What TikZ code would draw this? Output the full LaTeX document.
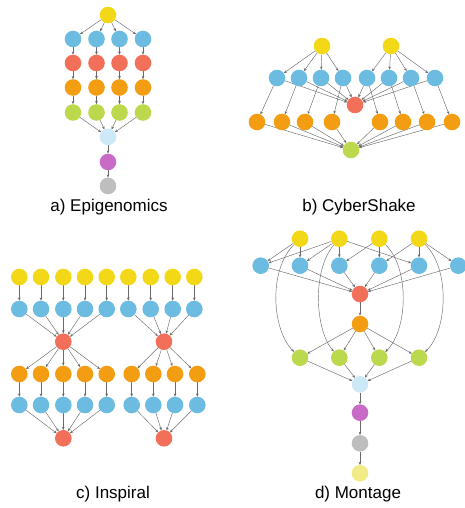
\documentclass[tikz,border=0pt]{standalone}
\usepackage{fontspec}
\setmainfont{Liberation Sans}
\usetikzlibrary{arrows.meta}
\definecolor{cyel}{HTML}{F2D816}
\definecolor{cblu}{HTML}{6CBBE0}
\definecolor{cred}{HTML}{F2705A}
\definecolor{corg}{HTML}{F29D12}
\definecolor{cgrn}{HTML}{BCD84C}
\definecolor{clbl}{HTML}{CDE8F6}
\definecolor{cpur}{HTML}{C86BC6}
\definecolor{cgry}{HTML}{BEBEBE}
\definecolor{cpyl}{HTML}{F1EC86}
\definecolor{cedge}{HTML}{6A6A6A}
\pgfdeclarelayer{bg}
\pgfsetlayers{bg,main}
\tikzset{
  v/.style={circle,minimum size=16.6pt,inner sep=0pt,outer sep=0pt,draw=none},
  edge/.style={draw=cedge,line width=0.45pt,-{Stealth[length=3.2pt,width=2.6pt]}},
  paneltitle/.style={font=\fontsize{17}{20}\selectfont,inner sep=0pt}
}
\begin{document}
\begin{tikzpicture}[x=1pt,y=-1pt]
\useasboundingbox (0,0) rectangle (465,508);

% ---------- a) Epigenomics ----------
\node[v,fill=cyel] (ay) at (108,15) {};
\foreach \x [count=\i] in {73,96.5,119.5,143}{
  \node[v,fill=cblu] (ab\i) at (\x,39) {};
  \node[v,fill=cred] (ar\i) at (\x,63) {};
  \node[v,fill=corg] (ao\i) at (\x,87.5) {};
  \node[v,fill=cgrn] (ag\i) at (\x,112.5) {};
}
\node[v,fill=clbl] (alb) at (108,137) {};
\node[v,fill=cpur] (ap) at (108,162) {};
\node[v,fill=cgry] (agr) at (108,186) {};
\node[paneltitle] (capa) at (109,207) {a) Epigenomics};
\begin{pgfonlayer}{bg}
\foreach \i in {1,...,4}{
  \draw[edge] (ay) -- (ab\i);
  \draw[edge] (ab\i) -- (ar\i);
  \draw[edge] (ar\i) -- (ao\i);
  \draw[edge] (ao\i) -- (ag\i);
  \draw[edge] (ag\i) -- (alb);
}
\draw[edge] (alb) -- (ap);
\draw[edge] (ap) -- (agr);
\end{pgfonlayer}

% ---------- b) CyberShake ----------
\node[v,fill=cyel] (by1) at (322,46) {};
\node[v,fill=cyel] (by2) at (391,46) {};
\foreach \x [count=\i] in {277,299,321,343,367,389,411,435}{
  \node[v,fill=cblu] (bb\i) at (\x,78) {};
}
\node[v,fill=cred] (br) at (355,105) {};
\foreach \x [count=\i] in {257,282,305,332,380,403,427,452}{
  \node[v,fill=corg] (bo\i) at (\x,122) {};
}
\node[v,fill=cgrn] (bg) at (351,150) {};
\node[paneltitle] (capb) at (359,207) {b) CyberShake};
\begin{pgfonlayer}{bg}
\foreach \i in {1,...,4}{ \draw[edge] (by1) -- (bb\i); }
\foreach \i in {5,...,8}{ \draw[edge] (by2) -- (bb\i); }
\foreach \i in {1,...,8}{
  \draw[edge] (bb\i) -- (br);
  \draw[edge] (bb\i) -- (bo\i);
  \draw[edge] (bo\i) -- (bg);
}
\end{pgfonlayer}

% ---------- c) Inspiral ----------
\foreach \x [count=\i] in {19.3,41,63.3,85,106.7,128.3,150.7,172.7,194.3}{
  \node[v,fill=cyel] (cy\i) at (\x,277) {};
  \node[v,fill=cblu] (cb\i) at (\x,309) {};
}
\node[v,fill=cred] (cr1) at (63.3,341.7) {};
\node[v,fill=cred] (cr2) at (164,341.7) {};
\foreach \x [count=\i] in {19.3,41,63.3,85,106.7,131.7,153.3,175,197.3}{
  \node[v,fill=corg] (co\i) at (\x,374) {};
  \node[v,fill=cblu] (cc\i) at (\x,405) {};
}
\node[v,fill=cred] (cs1) at (63.3,438.3) {};
\node[v,fill=cred] (cs2) at (164,438.3) {};
\node[paneltitle] (capc) at (113,494) {c) Inspiral};
\begin{pgfonlayer}{bg}
\foreach \i in {1,...,9}{
  \draw[edge] (cy\i) -- (cb\i);
  \draw[edge] (co\i) -- (cc\i);
}
\foreach \i in {1,...,5}{
  \draw[edge] (cb\i) -- (cr1);
  \draw[edge] (cr1) -- (co\i);
  \draw[edge] (cc\i) -- (cs1);
}
\foreach \i in {6,...,9}{
  \draw[edge] (cb\i) -- (cr2);
  \draw[edge] (cr2) -- (co\i);
  \draw[edge] (cc\i) -- (cs2);
}
\end{pgfonlayer}

% ---------- d) Montage ----------
\foreach \x [count=\i] in {300,339.3,379.3,419}{
  \node[v,fill=cyel] (dy\i) at (\x,238.7) {};
  \node[v,fill=cgrn] (dg\i) at (\x,357.7) {};
}
\foreach \x [count=\i] in {260.7,300,339.3,379.3,419,458.3}{
  \node[v,fill=cblu] (db\i) at (\x,265.7) {};
}
\node[v,fill=cred] (dr) at (360,294) {};
\node[v,fill=corg] (do) at (360,324) {};
\node[v,fill=clbl] (dlb) at (360,384.3) {};
\node[v,fill=cpur] (dp) at (360,412.7) {};
\node[v,fill=cgry] (dgr) at (360,443.3) {};
\node[v,fill=cpyl] (dj) at (360,473.3) {};
\node[paneltitle] (capd) at (358,494) {d) Montage};
\begin{pgfonlayer}{bg}
\draw[edge] (dy1) -- (db1);
\draw[edge] (dy1) -- (db2);
\draw[edge] (dy2) -- (db1);
\draw[edge] (dy2) -- (db2);
\draw[edge] (dy2) -- (db3);
\draw[edge] (dy2) -- (db5);
\draw[edge] (dy3) -- (db3);
\draw[edge] (dy3) -- (db4);
\draw[edge] (dy4) -- (db4);
\draw[edge] (dy4) -- (db5);
\draw[edge] (dy4) -- (db6);
\foreach \i in {1,...,6}{ \draw[edge] (db\i) -- (dr); }
\draw[edge] (dr) -- (do);
\foreach \i in {1,...,4}{
  \draw[edge] (do) -- (dg\i);
  \draw[edge] (dg\i) -- (dlb);
}
\draw[edge] (dy1) .. controls (268,270) and (272,330) .. (dg1);
\draw[edge] (dy2) .. controls (312,270) and (315,330) .. (dg2);
\draw[edge] (dy3) .. controls (410,268) and (408,330) .. (dg3);
\draw[edge] (dy4) .. controls (450,268) and (448,330) .. (dg4);
\draw[edge] (dlb) -- (dp);
\draw[edge] (dp) -- (dgr);
\draw[edge] (dgr) -- (dj);
\end{pgfonlayer}
\end{tikzpicture}
\end{document}
